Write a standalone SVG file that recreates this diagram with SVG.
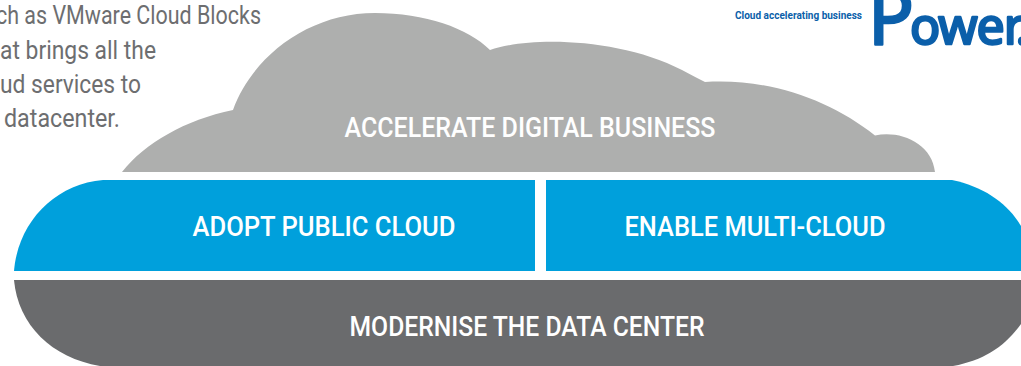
<svg xmlns="http://www.w3.org/2000/svg" width="1021" height="366" viewBox="0 0 1021 366">
<style>
.l{font-family:"Roboto","Liberation Sans",sans-serif;font-size:27px;font-weight:500;fill:#fff;text-anchor:middle}
.b{font-family:"Roboto","Liberation Sans",sans-serif;font-size:25px;fill:#6d6e70;text-anchor:end}
.p{font-family:"Noto Sans",sans-serif;font-size:50px;fill:#0b5faa;stroke:#0b5faa;stroke-width:2.500px;stroke-linejoin:round}
</style>
<rect width="1021" height="366" fill="#fff"/>
<g id="intro-text">
<text class="b" x="261" y="24" textLength="265" lengthAdjust="spacingAndGlyphs">ch as VMware Cloud Blocks</text>
<text class="b" x="156" y="59" textLength="156" lengthAdjust="spacingAndGlyphs">at brings all the</text>
<text class="b" x="141" y="93" textLength="141" lengthAdjust="spacingAndGlyphs">ud services to</text>
<text class="b" x="120" y="127" textLength="116" lengthAdjust="spacingAndGlyphs">datacenter.</text>
</g>
<g id="logo">
<text x="735" y="19" font-family="Roboto,'Liberation Sans',sans-serif" font-size="11" font-weight="700" fill="#0b5faa" textLength="127" lengthAdjust="spacingAndGlyphs">Cloud accelerating business</text>
<text class="p" x="868" y="44"><tspan font-size="76">P</tspan><tspan dx="-4" letter-spacing="-1">ower.</tspan></text>
</g>
<g id="accelerate-digital-business">
<path fill="#aeafae" d="M122 172C145 143 185 120 233 110C253 55 310 13 375 13C425 13 468 28 490 50C530 36 620 38 682 70Q695 77 705 82C770 78 830 100 875 135.500C900 130 932 143 935 172Z"/>
<text class="l" x="530" y="137" textLength="371" lengthAdjust="spacingAndGlyphs">ACCELERATE DIGITAL BUSINESS</text>
</g>
<g id="adopt-public-cloud">
<path fill="#00a0dc" d="M14 271C18 222 55 184 103 180H535V271Z"/>
<text class="l" x="324" y="236" textLength="263" lengthAdjust="spacingAndGlyphs">ADOPT PUBLIC CLOUD</text>
</g>
<g id="enable-multi-cloud">
<path fill="#00a0dc" d="M546 180H952C985 187 1008 204 1021 226V271H546Z"/>
<text class="l" x="755" y="236" textLength="261" lengthAdjust="spacingAndGlyphs">ENABLE MULTI-CLOUD</text>
</g>
<g id="modernise-the-data-center">
<path fill="#6a6b6d" d="M14 280H1021V324C1005 346 985 360 953 366H100C52 358 18 325 14 280Z"/>
<text class="l" x="527" y="336" textLength="355" lengthAdjust="spacingAndGlyphs">MODERNISE THE DATA CENTER</text>
</g>
<g id="connectors"/>
</svg>
